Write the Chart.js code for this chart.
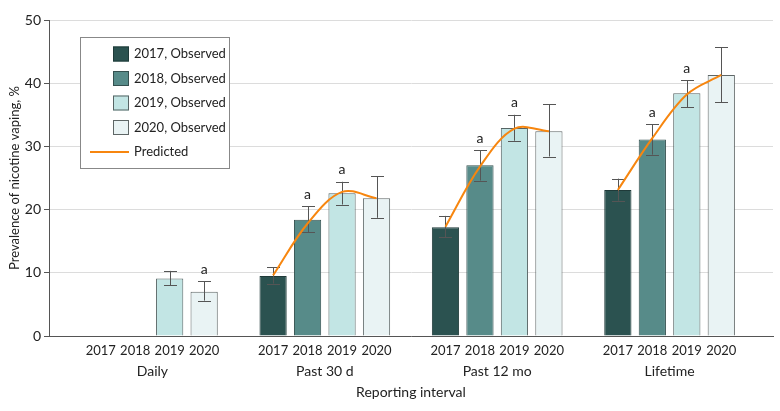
<!DOCTYPE html>
<html>
<head>
<meta charset="utf-8">
<script src="https://cdn.jsdelivr.net/npm/chart.js@4.4.1/dist/chart.umd.min.js"></script>
<style>
  body { margin: 0; background: #fff; }
  #wrap { width: 780px; height: 411px; position: relative; }
</style>
</head>
<body>
<div id="wrap"><canvas id="myChart"></canvas></div>
<script>
// categories
const groups = ["Daily", "Past 30 d", "Past 12 mo", "Lifetime"];
const years = ["2017", "2018", "2019", "2020"];

// observed prevalence (%), one value per group
const obs2017 = [null, 9.5, 17.2, 23.1];
const obs2018 = [null, 18.4, 27.0, 31.1];
const obs2019 = [9.1, 22.6, 32.9, 38.4];
const obs2020 = [7.0, 21.8, 32.4, 41.3];

// 95% CI
const lo2017 = [null, 8.3, 15.6, 21.4];
const hi2017 = [null, 10.9, 19.0, 24.9];
const lo2018 = [null, 16.4, 24.6, 28.7];
const hi2018 = [null, 20.5, 29.4, 33.5];
const lo2019 = [8.0, 20.8, 30.9, 36.2];
const hi2019 = [10.3, 24.4, 35.0, 40.5];
const lo2020 = [5.6, 18.7, 28.4, 37.0];
const hi2020 = [8.7, 25.3, 36.7, 45.7];

// predicted values
const pred2017 = [null, 9.6, 17.3, 23.1];
const pred2018 = [null, 17.8, 26.8, 31.3];
const pred2019 = [null, 22.8, 32.8, 38.2];
const pred2020 = [null, 21.8, 32.4, 41.3];

// "a" markers
const sig2018 = [false, true, true, true];
const sig2019 = [false, true, true, true];
const sig2020 = [true, false, false, false];

const yTicks = [0, 10, 20, 30, 40, 50];

const barColors = ["#2b5250", "#578b89", "#c2e5e4", "#e9f3f4"];
const edgeColors = ["#1f3a39", "#34504f", "#566464", "#5e6666"];

// one slot per bar, plus an empty slot before/after each group
const nSlots = groups.length * 5 + 1;
function slot(g, k) { return 1 + g * 5 + k; }

var labels = [];
for (var i = 0; i < nSlots; i++) labels.push("");
for (var g = 0; g < groups.length; g++) {
    for (var k = 0; k < years.length; k++) labels[slot(g, k)] = years[k];
}

function spread(k, vals) {
    var arr = [];
    for (var i = 0; i < nSlots; i++) arr.push(null);
    for (var g = 0; g < vals.length; g++) arr[slot(g, k)] = vals[g];
    return arr;
}

const obs = [obs2017, obs2018, obs2019, obs2020];
const los = [lo2017, lo2018, lo2019, lo2020];
const his = [hi2017, hi2018, hi2019, hi2020];
const sigs = [[false, false, false, false], sig2018, sig2019, sig2020];
const preds = [pred2017, pred2018, pred2019, pred2020];

var predLine = [];
for (var i = 0; i < nSlots; i++) predLine.push(null);
for (var g = 0; g < groups.length; g++) {
    for (var k = 0; k < years.length; k++) predLine[slot(g, k)] = preds[k][g];
}

var datasets = [];
for (var k = 0; k < years.length; k++) {
    datasets.push({
        type: "bar",
        label: years[k] + ", Observed",
        data: spread(k, obs[k]),
        backgroundColor: barColors[k],
        borderColor: edgeColors[k],
        borderWidth: 1,
        grouped: false,
        barPercentage: 0.79,
        categoryPercentage: 1,
        order: 1,
        yearIndex: k
    });
}
datasets.push({
    type: "line",
    label: "Predicted",
    data: predLine,
    borderColor: "#f7860f",
    borderWidth: 2,
    pointRadius: 0,
    tension: 0.35,
    spanGaps: false,
    fill: false,
    order: 0
});

const FONT = "Lato";

const errorBars = {
    id: "errorBars",
    afterDatasetDraw(chart, args) {
        var ds = chart.data.datasets[args.index];
        if (ds.type !== "bar") return;
        var k = ds.yearIndex;
        var ctx = chart.ctx, x = chart.scales.x, y = chart.scales.y;
        ctx.save();
        ctx.strokeStyle = "#555";
        ctx.lineWidth = 1;
        for (var g = 0; g < groups.length; g++) {
            if (los[k][g] == null) continue;
            var px = Math.round(x.getPixelForValue(slot(g, k))) + 0.5;
            var y1 = y.getPixelForValue(his[k][g]);
            var y2 = y.getPixelForValue(los[k][g]);
            ctx.beginPath();
            ctx.moveTo(px, y1); ctx.lineTo(px, y2);
            ctx.moveTo(px - 6.5, Math.round(y1) + 0.5); ctx.lineTo(px + 6.5, Math.round(y1) + 0.5);
            ctx.moveTo(px - 6.5, Math.round(y2) + 0.5); ctx.lineTo(px + 6.5, Math.round(y2) + 0.5);
            ctx.stroke();
        }
        ctx.restore();
    },
    afterDatasetsDraw(chart) {
        var ctx = chart.ctx, x = chart.scales.x, y = chart.scales.y;
        ctx.save();
        ctx.fillStyle = "#222";
        ctx.font = "14px " + FONT;
        ctx.textAlign = "center";
        ctx.textBaseline = "middle";
        for (var k = 0; k < years.length; k++) {
            for (var g = 0; g < groups.length; g++) {
                if (!sigs[k][g]) continue;
                ctx.fillText("a", x.getPixelForValue(slot(g, k)), y.getPixelForValue(his[k][g]) - 12);
            }
        }
        ctx.restore();
    }
};

const boxLegend = {
    id: "boxLegend",
    afterDraw(chart) {
        var ctx = chart.ctx, a = chart.chartArea;
        var bx = a.left + 31, by = a.top + 17, bw = 149, bh = 131;
        ctx.save();
        ctx.fillStyle = "#fff";
        ctx.fillRect(bx, by, bw, bh);
        ctx.strokeStyle = "#888";
        ctx.lineWidth = 1;
        ctx.strokeRect(bx + 0.5, by + 0.5, bw, bh);
        ctx.font = "13px " + FONT;
        ctx.textBaseline = "middle";
        ctx.textAlign = "left";
        var items = chart.data.datasets;
        for (var i = 0; i < items.length; i++) {
            var cy = by + 17 + i * 24.5;
            var d = items[i];
            if (d.type === "bar") {
                ctx.fillStyle = d.backgroundColor;
                ctx.fillRect(bx + 33, cy - 7.5, 16, 15);
                ctx.strokeStyle = d.borderColor;
                ctx.strokeRect(bx + 33.5, cy - 7, 15, 14);
            } else {
                ctx.strokeStyle = d.borderColor;
                ctx.lineWidth = 2;
                ctx.beginPath();
                ctx.moveTo(bx + 10, cy); ctx.lineTo(bx + 49, cy);
                ctx.stroke();
                ctx.lineWidth = 1;
            }
            ctx.fillStyle = "#222";
            ctx.fillText(d.label, bx + 54, cy);
        }
        ctx.restore();
    }
};

new Chart("myChart", {
    type: "bar",
    data: {
        labels: labels,
        datasets: datasets
    },
    plugins: [errorBars, boxLegend],
    options: {
        responsive: true,
        maintainAspectRatio: false,
        animation: false,
        layout: { padding: { top: 20, right: 7, bottom: 0, left: 0 } },
        plugins: {
            legend: { display: false },
            tooltip: { enabled: false }
        },
        scales: {
            y: {
                min: 0,
                max: 50,
                afterBuildTicks: function (s) { s.ticks = yTicks.map(function (v) { return { value: v }; }); },
                afterFit: function (s) { s.width = 49; },
                grid: { color: "#dcdcdc", tickColor: "#555", tickLength: 5 },
                border: { color: "#555" },
                ticks: { color: "#222", font: { family: FONT, size: 14 }, padding: 3 },
                title: {
                    display: true,
                    text: "Prevalence of nicotine vaping, %",
                    color: "#222",
                    font: { family: FONT, size: 13 },
                    padding: { top: 7, bottom: 0 }
                }
            },
            x: {
                weight: 0,
                afterFit: function (s) { s.height = 22; },
                grid: { display: false, drawTicks: false },
                border: { color: "#555" },
                ticks: { color: "#222", font: { family: FONT, size: 13 }, padding: 7, autoSkip: false, maxRotation: 0 }
            },
            x2: {
                type: "linear",
                position: "bottom",
                weight: 1,
                offset: false,
                min: -0.5,
                max: nSlots - 0.5,
                afterBuildTicks: function (s) { s.ticks = groups.map(function (n, g) { return { value: slot(g, 0) + 1.5 }; }); },
                afterFit: function (s) { s.height = 53; },
                grid: { display: false, drawTicks: false },
                border: { display: false },
                ticks: {
                    color: "#222",
                    font: { family: FONT, size: 14 },
                    padding: 5,
                    autoSkip: false,
                    maxRotation: 0,
                    callback: function (v, i) { return groups[i]; }
                },
                title: {
                    display: true,
                    text: "Reporting interval",
                    color: "#222",
                    font: { family: FONT, size: 14 },
                    padding: { top: 4, bottom: 10 }
                }
            }
        }
    }
});
</script>
</body>
</html>
